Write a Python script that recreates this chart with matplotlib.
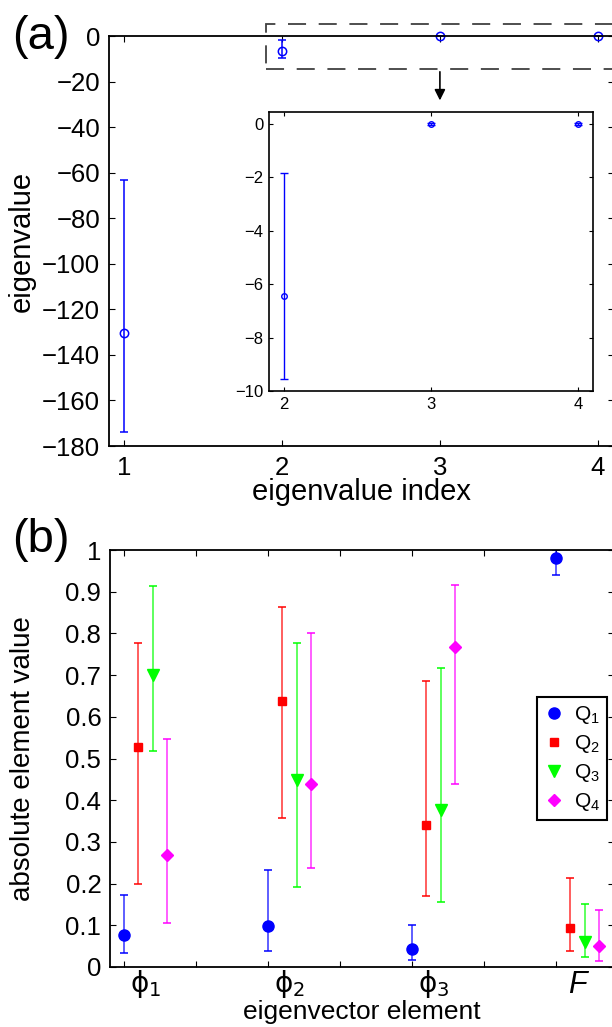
import matplotlib.pyplot as plt
import matplotlib.transforms as mtransforms
from matplotlib.patches import Rectangle

plt.rcParams['font.family'] = ['Liberation Sans', 'DejaVu Sans']
plt.rcParams['mathtext.fontset'] = 'custom'
plt.rcParams['mathtext.rm'] = 'Liberation Sans'
plt.rcParams['mathtext.it'] = 'Liberation Sans:italic'

# (a) eigenvalues with spread
eig_idx = [1, 2, 3, 4]
eig_mean = [-130.2, -6.45, -0.01, -0.01]
eig_lo = [-173.8, -9.55, -0.04, -0.04]
eig_hi = [-63.0, -1.85, 0.02, 0.02]

# (b) absolute eigenvector elements for Q1..Q4
elements = [r'$\mathrm{\phi}_\mathrm{1}$', r'$\mathrm{\phi}_\mathrm{2}$',
            r'$\mathrm{\phi}_\mathrm{3}$', 'F']
q_labels = [r'Q$_1$', r'Q$_2$', r'Q$_3$', r'Q$_4$']
q1_val = [0.077, 0.099, 0.042, 0.982]
q1_lo = [0.033, 0.039, 0.017, 0.939]
q1_hi = [0.173, 0.232, 0.100, 1.000]
q2_val = [0.527, 0.638, 0.340, 0.094]
q2_lo = [0.200, 0.358, 0.171, 0.039]
q2_hi = [0.776, 0.863, 0.686, 0.213]
q3_val = [0.700, 0.448, 0.376, 0.061]
q3_lo = [0.518, 0.191, 0.156, 0.023]
q3_hi = [0.914, 0.776, 0.716, 0.152]
q4_val = [0.268, 0.440, 0.768, 0.051]
q4_lo = [0.105, 0.237, 0.438, 0.015]
q4_hi = [0.546, 0.800, 0.916, 0.136]

W, H = 612, 1027
fig = plt.figure(figsize=(W / 100, H / 100), dpi=100)


def px_axes(left, top, right, bottom):
    return fig.add_axes([left / W, 1 - bottom / H, (right - left) / W, (bottom - top) / H])


def style(ax, size, lw=1.3):
    ax.tick_params(direction='in', top=True, right=True, length=4, width=0.8,
                   labelsize=size, pad=6)
    for s in ax.spines.values():
        s.set_linewidth(lw)


def asym(vals, lo, hi):
    return [[v - l for v, l in zip(vals, lo)], [h - v for v, h in zip(vals, hi)]]


# ---- panel (a)
ax_a = px_axes(108.5, 36, 613.5, 446)
eb = ax_a.errorbar(eig_idx, eig_mean, yerr=asym(eig_mean, eig_lo, eig_hi), fmt='o',
                   color='blue', mfc='none', ms=6, mew=1.1, elinewidth=1.1, capsize=3.2)
for art in eb.get_children():
    art.set_clip_on(False)
ax_a.set_xlim(0.9, 4.1)
ax_a.set_ylim(-180, 0)
ax_a.set_xticks(eig_idx)
ax_a.set_yticks(range(-180, 1, 20))
style(ax_a, 18.5)
ax_a.tick_params(axis='x', pad=7)
ax_a.set_xlabel('eigenvalue index', fontsize=21)
ax_a.xaxis.set_label_coords(0.5, -0.077)
ax_a.xaxis.label.set_va('top')
ax_a.set_ylabel('eigenvalue', fontsize=21)
ax_a.yaxis.set_label_coords(-0.144, 0.5)

# zoom box and arrow
ax_a.add_patch(Rectangle((1.9, -14.5), 2.6, 19.8, fill=False, ec='#404040', lw=1.3,
                         ls=(0, (10, 7)), clip_on=False))
ax_a.annotate('', xy=(3.0, -29.5), xytext=(3.0, -14.5),
              arrowprops=dict(arrowstyle='-|>', color='k', lw=1.2, mutation_scale=16),
              annotation_clip=False)

# inset
ax_in = px_axes(269, 112, 593, 391)
eb = ax_in.errorbar(eig_idx[1:], eig_mean[1:],
                    yerr=asym(eig_mean[1:], eig_lo[1:], eig_hi[1:]), fmt='o',
                    color='blue', mfc='none', ms=4, mew=1.0, elinewidth=1.0, capsize=2.6)
ax_in.set_xlim(1.9, 4.1)
ax_in.set_ylim(-10, 0.45)
ax_in.set_xticks(eig_idx[1:])
ax_in.set_yticks(range(-10, 1, 2))
style(ax_in, 12, lw=1.2)
ax_in.tick_params(length=3, pad=4)

fig.text(12 / W, 1 - 37 / H, '(a)', fontsize=34, va='center')

# ---- panel (b)
ax_b = px_axes(109.6, 550, 613.6, 967)
colors = ['blue', 'red', (0, 1, 0), 'magenta']
markers = ['o', 's', 'v', 'D']
sizes = [8, 6, 9, 6.5]
series = [(q1_val, q1_lo, q1_hi), (q2_val, q2_lo, q2_hi),
          (q3_val, q3_lo, q3_hi), (q4_val, q4_lo, q4_hi)]
handles = []
for q, (vals, lo, hi) in enumerate(series):
    xs = [2 * g + 1 + 0.2 * q for g in range(len(elements))]
    eb = ax_b.errorbar(xs, vals, yerr=asym(vals, lo, hi), fmt=markers[q],
                       color=colors[q], ms=sizes[q], elinewidth=1.1, capsize=3,
                       capthick=1.1, label=q_labels[q])
    handles.append(eb[0])
    eb[0].set_clip_on(False)
    for ln in eb[2]:
        ln.set_alpha(0.8)

ax_b.set_xlim(0.8, 7.8)
ax_b.set_ylim(0, 1)
ax_b.set_xticks(range(1, 8))
ax_b.set_xticklabels([])
yt = [i / 10 for i in range(11)]
ax_b.set_yticks(yt)
ax_b.set_yticklabels(['0'] + ['%.1f' % v for v in yt[1:-1]] + ['1'])
style(ax_b, 18.5)

trans = mtransforms.blended_transform_factory(ax_b.transData, ax_b.transAxes)
for g, name in enumerate(elements):
    if name == 'F':
        ax_b.text(2 * g + 1.3, -0.042, name, transform=trans, ha='center', va='center',
                  fontsize=22, style='italic')
    else:
        ax_b.text(2 * g + 1.3, -0.04, name, transform=trans, ha='center', va='center',
                  fontsize=20, math_fontfamily='dejavusans')

ax_b.set_xlabel('eigenvector element', fontsize=19)
ax_b.xaxis.set_label_coords(0.5, -0.08)
ax_b.xaxis.label.set_va('top')
ax_b.set_ylabel('absolute element value', fontsize=20)
ax_b.yaxis.set_label_coords(-0.146, 0.5)

leg = ax_b.legend(handles, q_labels, loc='upper right', bbox_to_anchor=(0.987, 0.647),
                  numpoints=1, fontsize=15, fancybox=False, framealpha=1,
                  edgecolor='k', labelspacing=0.33, handlelength=0.9,
                  handletextpad=0.5, borderpad=0.35, borderaxespad=0)
leg.get_frame().set_linewidth(1.5)

fig.text(12 / W, 1 - 540 / H, '(b)', fontsize=34, va='center')

fig.savefig('out.png', dpi=100)
